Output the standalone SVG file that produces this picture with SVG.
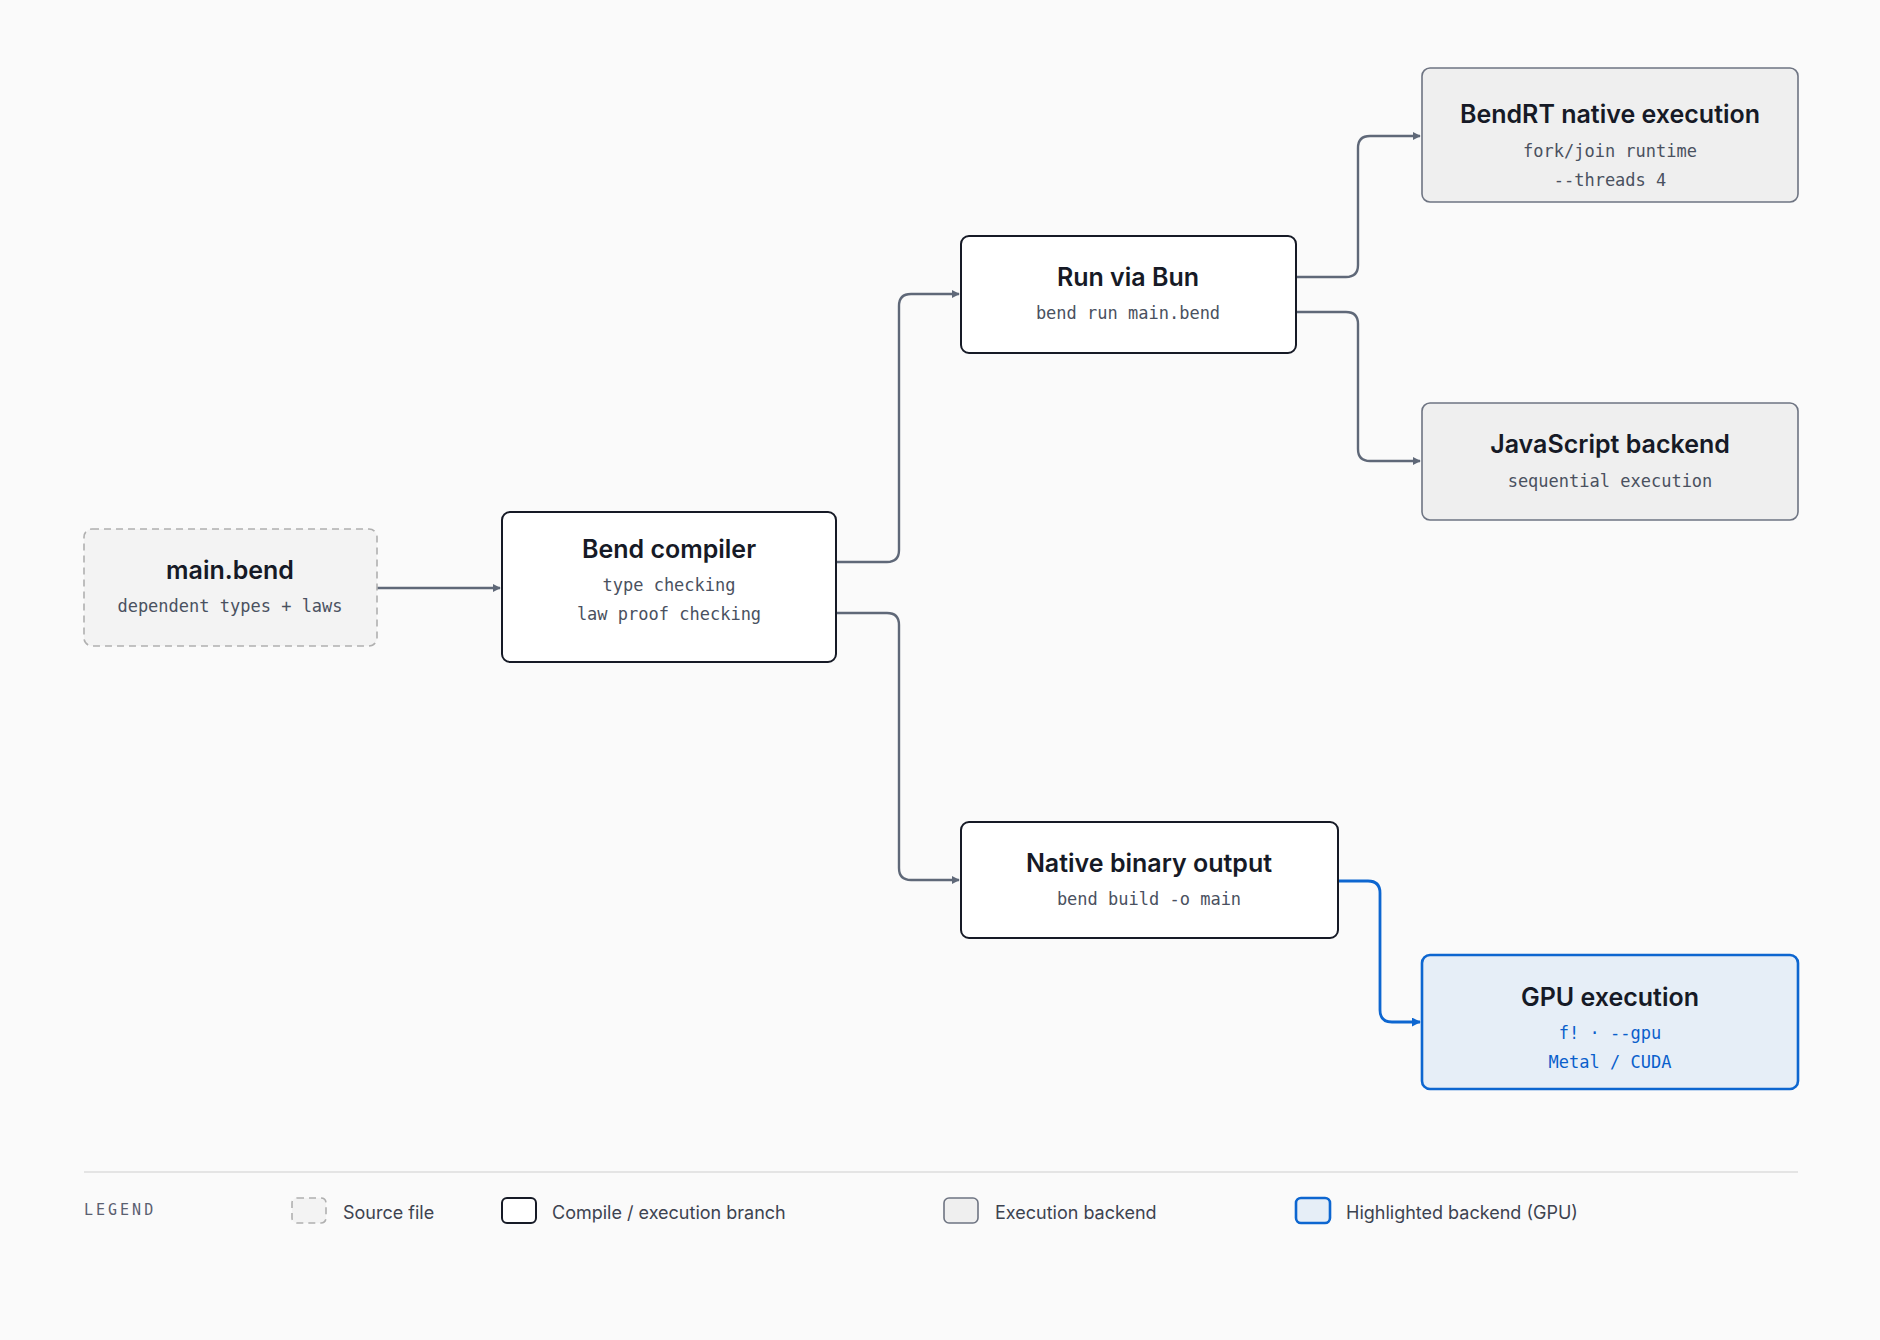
<svg xmlns="http://www.w3.org/2000/svg" width="1880" height="1340" viewBox="0 0 1880 1340">
<style>
.t{font-family:Inter,"Liberation Sans",sans-serif;font-weight:600;font-size:25px;fill:#161a26;text-anchor:middle}
.s{font-family:"DejaVu Sans Mono","Liberation Mono",monospace;font-size:17px;fill:#4a5160;text-anchor:middle}
.sb{fill:#0a5fcc}
.l{font-family:Inter,"Liberation Sans",sans-serif;font-size:18px;fill:#3d4350}
.c{fill:none;stroke:#5f6878;stroke-width:2.4}
.cb{fill:none;stroke:#0d66d0;stroke-width:2.8}
.w{fill:#fff;stroke:#161a26;stroke-width:2}
.g{fill:#efefef;stroke:#6e7482;stroke-width:1.6}
.src{fill:#f3f3f3;stroke:#b0b0b0;stroke-width:1.6;stroke-dasharray:7 5}
.gpu{fill:#e6eef7;stroke:#0d66d0;stroke-width:2.6}
</style>
<defs>
<marker id="a" viewBox="0 0 10 10" refX="9" refY="5" markerWidth="8" markerHeight="8" markerUnits="userSpaceOnUse" orient="auto"><path d="M0,0L10,5L0,10z" fill="#5f6878"/></marker>
<marker id="ab" viewBox="0 0 10 10" refX="9" refY="5" markerWidth="9" markerHeight="9" markerUnits="userSpaceOnUse" orient="auto"><path d="M0,0L10,5L0,10z" fill="#0d66d0"/></marker>
</defs>
<rect width="1880" height="1340" fill="#fafafa"/>
<g id="connectors">
<path class="c" d="M377,588H500" marker-end="url(#a)"/>
<path class="c" d="M836,562H887Q899,562 899,550V306Q899,294 911,294H959" marker-end="url(#a)"/>
<path class="c" d="M836,613H887Q899,613 899,625V868Q899,880 911,880H959" marker-end="url(#a)"/>
<path class="c" d="M1296,277H1346Q1358,277 1358,265V148Q1358,136 1370,136H1420" marker-end="url(#a)"/>
<path class="c" d="M1296,312H1346Q1358,312 1358,324V449Q1358,461 1370,461H1420" marker-end="url(#a)"/>
<path class="cb" d="M1338,881H1368Q1380,881 1380,893V1010Q1380,1022 1392,1022H1420" marker-end="url(#ab)"/>
</g>
<g id="main"><rect class="src" x="84" y="529" width="293" height="117" rx="8"/>
<text class="t" x="230" y="579">main.bend</text><text class="s" x="230" y="612">dependent types + laws</text></g>
<g id="compiler"><rect class="w" x="502" y="512" width="334" height="150" rx="8"/>
<text class="t" x="669" y="558">Bend compiler</text><text class="s" x="669" y="591">type checking</text><text class="s" x="669" y="620">law proof checking</text></g>
<g id="bun"><rect class="w" x="961" y="236" width="335" height="117" rx="8"/>
<text class="t" x="1128" y="286">Run via Bun</text><text class="s" x="1128" y="319">bend run main.bend</text></g>
<g id="bendrt"><rect class="g" x="1422" y="68" width="376" height="134" rx="8"/>
<text class="t" x="1610" y="123">BendRT native execution</text><text class="s" x="1610" y="157">fork/join runtime</text><text class="s" x="1610" y="186">--threads 4</text></g>
<g id="js"><rect class="g" x="1422" y="403" width="376" height="117" rx="8"/>
<text class="t" x="1610" y="453">JavaScript backend</text><text class="s" x="1610" y="487">sequential execution</text></g>
<g id="native"><rect class="w" x="961" y="822" width="377" height="116" rx="8"/>
<text class="t" x="1149" y="872">Native binary output</text><text class="s" x="1149" y="905">bend build -o main</text></g>
<g id="gpu"><rect class="gpu" x="1422" y="955" width="376" height="134" rx="8"/>
<text class="t" x="1610" y="1006">GPU execution</text><text class="s sb" x="1610" y="1039">f! · --gpu</text><text class="s sb" x="1610" y="1068">Metal / CUDA</text></g>
<g id="legend">
<line x1="84" y1="1172" x2="1798" y2="1172" stroke="#dcdcdc" stroke-width="1.5"/>
<text x="84" y="1215" style="font-family:'DejaVu Sans Mono',monospace;font-size:15px;letter-spacing:3px;fill:#5a6070">LEGEND</text>
<rect class="src" x="292" y="1198" width="34" height="25" rx="5"/><text class="l" x="343" y="1219">Source file</text>
<rect class="w" x="502" y="1198" width="34" height="25" rx="5"/><text class="l" x="552" y="1219">Compile / execution branch</text>
<rect class="g" x="944" y="1198" width="34" height="25" rx="5"/><text class="l" x="995" y="1219">Execution backend</text>
<rect class="gpu" x="1296" y="1198" width="34" height="25" rx="5"/><text class="l" x="1346" y="1219">Highlighted backend (GPU)</text>
</g>
</svg>
